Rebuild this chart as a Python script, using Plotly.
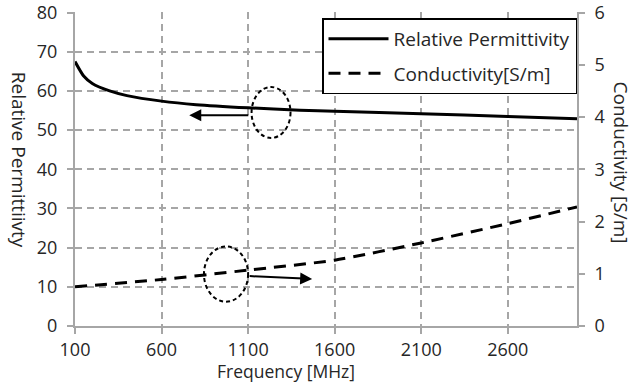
import plotly.graph_objects as go

freq = [100, 150, 200, 300, 400, 600, 800, 1100, 1400, 1600, 2100, 2600, 3000]
permittivity = [67.5, 63.8, 61.9, 60.0, 58.8, 57.4, 56.5, 55.7, 55.1, 54.8, 54.2, 53.5, 52.9]
cond_freq = [100, 600, 1100, 1600, 2100, 2600, 3000]
conductivity = [0.75, 0.89, 1.07, 1.26, 1.59, 1.96, 2.28]

x_ticks = [100, 600, 1100, 1600, 2100, 2600]
y_ticks = [0, 10, 20, 30, 40, 50, 60, 70, 80]
y2_ticks = [0, 1, 2, 3, 4, 5, 6]

FONT = "Open Sans"
GRID = "#a6a6a6"
TXT = "#262626"

fig = go.Figure()
fig.add_trace(go.Scatter(x=freq, y=permittivity, mode="lines", name="Relative Permittivity",
                         legendgroup="a",
                         line=dict(color="black", width=3, shape="spline", smoothing=0.6)))
fig.add_trace(go.Scatter(x=cond_freq, y=conductivity, mode="lines", name="Conductivity[S/m]",
                         legendgroup="b",
                         yaxis="y2", line=dict(color="black", width=3, dash="12px,8px",
                                               shape="spline", smoothing=0.6)))

# annotation ellipses (data coords on left axis)
ell1 = dict(x0=1120, x1=1345, y0=48.0, y1=61.0)
ell2 = dict(x0=845, x1=1100, y0=6.2, y1=20.3)
for e in (ell1, ell2):
    fig.add_shape(type="circle", xref="x", yref="y", **e,
                  line=dict(color="black", width=2, dash="4px,3px"))

fig.add_annotation(x=760, y=53.8, ax=1110, ay=53.8, xref="x", yref="y", axref="x", ayref="y",
                   showarrow=True, arrowhead=2, arrowsize=1.2, arrowwidth=2, arrowcolor="black", text="")
fig.add_annotation(x=1470, y=12.0, ax=1100, ay=12.75, xref="x", yref="y", axref="x", ayref="y",
                   showarrow=True, arrowhead=2, arrowsize=1.2, arrowwidth=2, arrowcolor="black", text="")

# axis titles
fig.add_annotation(text="Relative Permittiivty", xref="paper", yref="paper", x=-0.11, y=0.53,
                   xanchor="center", yanchor="middle",
                   textangle=90, showarrow=False, font=dict(family=FONT, size=19, color=TXT))
fig.add_annotation(text="Conductivity [S/m]", xref="paper", yref="paper", x=1.088, y=0.52,
                   xanchor="center", yanchor="middle",
                   textangle=90, showarrow=False, font=dict(family=FONT, size=19, color=TXT))
fig.add_annotation(text="Frequency [MHz]", xref="paper", yref="paper", x=0.42, y=-0.142,
                   xanchor="center", yanchor="middle", showarrow=False,
                   font=dict(family=FONT, size=17.5, color=TXT))

fig.update_layout(
    width=639, height=383,
    margin=dict(l=75, r=62, t=12, b=57, autoexpand=False),
    paper_bgcolor="white", plot_bgcolor="white",
    font=dict(family=FONT, size=18, color=TXT),
    showlegend=True,
    legend=dict(x=1.0, y=0.98, xanchor="right", yanchor="top", bgcolor="white",
                bordercolor="black", borderwidth=1.5, font=dict(family=FONT, size=19, color=TXT),
                tracegroupgap=7, itemwidth=60),
    xaxis=dict(range=[100, 3000], tickvals=x_ticks, showgrid=True, gridcolor=GRID,
               griddash="7px,5px", gridwidth=1.5, showline=True, linecolor=GRID, linewidth=2,
               ticks="outside", tickcolor=GRID, ticklen=6, tickwidth=2, zeroline=False,
               ticklabelstandoff=0, ticklabeloverflow="allow"),
    yaxis=dict(range=[0, 80.15], tickvals=y_ticks, showgrid=True, gridcolor=GRID,
               griddash="7px,5px", gridwidth=1.5, showline=True, linecolor=GRID, linewidth=2,
               ticks="outside", tickcolor=GRID, ticklen=6, tickwidth=2, zeroline=False,
               ticklabelstandoff=6, ticklabeloverflow="allow"),
    yaxis2=dict(range=[0, 6 * 80.15 / 80], tickvals=y2_ticks, overlaying="y", side="right",
                showgrid=False, showline=True, linecolor=GRID, linewidth=2, ticks="outside",
                tickcolor=GRID, ticklen=6, tickwidth=2, zeroline=False, ticklabelstandoff=6,
                ticklabeloverflow="allow"),
)

fig.write_html("out.html")
